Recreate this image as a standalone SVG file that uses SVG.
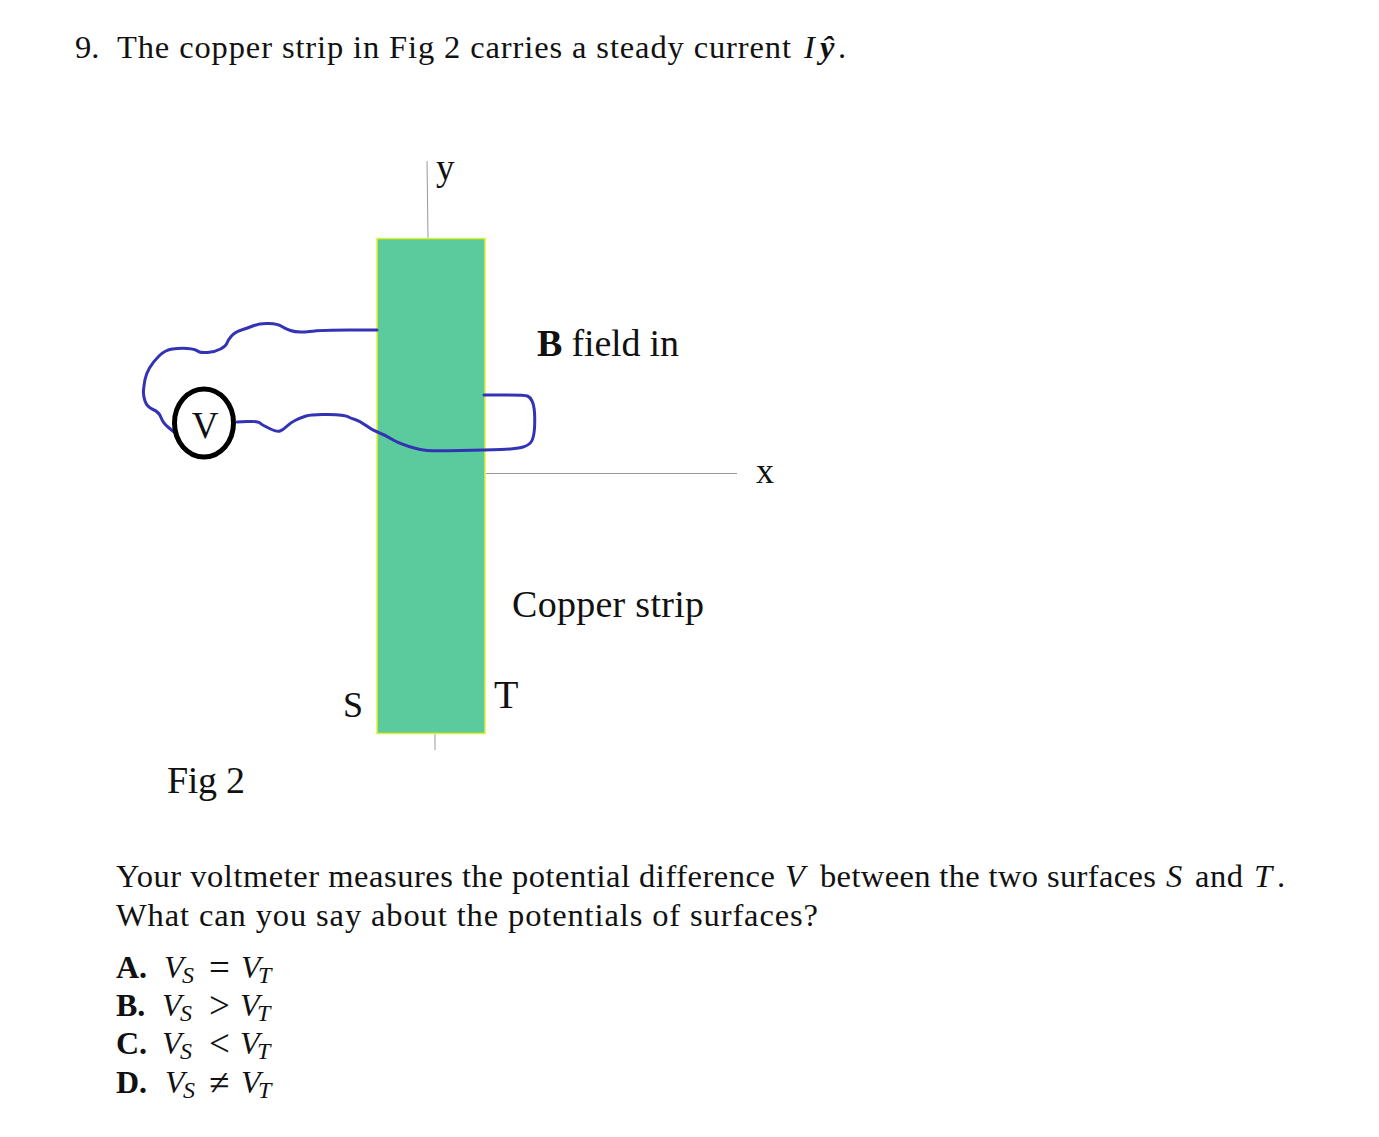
<svg xmlns="http://www.w3.org/2000/svg" width="1379" height="1137" viewBox="0 0 1379 1137">
<style>
text{font-family:"Liberation Serif","Times New Roman",serif;font-size:32.500px;fill:#111}
.l{font-size:38px}
.m{font-size:32px}
.op{font-size:37px}
.i{font-style:italic}
.b{font-weight:bold}
.sub{font-style:italic;font-size:24px}
.axis{stroke:#999;stroke-width:1;fill:none}
.wire{stroke:#3333b5;fill:none;stroke-width:3;stroke-linejoin:round;stroke-linecap:round}
</style>
<rect width="1379" height="1137" fill="#fff"/>
<g id="question-title">
<text x="75" y="58">9.</text>
<text x="117" y="58" textLength="674">The copper strip in Fig 2 carries a steady current</text>
<text class="i" x="804" y="58">I</text>
<text class="i b" x="820" y="58">ŷ</text>
<text x="838" y="58">.</text>
</g>
<g id="connectors">
<path class="axis" d="M427 161L428 238"/>
<path class="axis" d="M435 734V750"/>
<path class="axis" d="M486 473.500H737"/>
</g>
<g id="copper-strip"><rect x="377" y="238.500" width="108" height="495" fill="#5bcb9d" stroke="#e6ee2e" stroke-width="1.500"/></g>
<g id="wires">
<path class="wire" d="M377 330L349.500 330Q322 330 309.500 331.500T290.500 330.500T281 326T269 323.500T254 325.500T241.500 330T231.500 336T227 343T220.500 349T207.500 352.500T197.500 351T187.500 348.500T172.500 349T159 356T149.500 368T145 379.500T143.500 390T145 401T153 409.500T161 417.500T168.500 427.500T174 432"/>
<path class="wire" d="M237 422L247.500 421.500Q258 421 260 423T269.500 428.500T280 431T286.500 426.500T295 420.500T306 416T328.500 414.500T347.500 416.500T355 419.500T366 425.500T378.500 432.500T391.500 439T409 446.500T427.500 450.500T460.500 450.500T501 449.500T523 447T532 440.500T534.500 428T534.500 412.500T532 401T527.500 396Q525 395 504.500 395L484 395"/>
</g>
<g id="voltmeter">
<ellipse cx="204" cy="423" rx="29.500" ry="34" fill="#fff" stroke="#000" stroke-width="5"/>
<text x="205" y="438" text-anchor="middle" style="font-size:37px">V</text>
</g>
<text id="label-y" x="436" y="180" style="font-size:37px">y</text>
<text id="label-x" x="756" y="483" style="font-size:36px">x</text>
<text id="label-b" class="l" x="537" y="356" textLength="142"><tspan class="b">B</tspan> field in</text>
<text id="label-copper" class="l" x="512" y="617" textLength="192">Copper strip</text>
<text id="label-s" x="343" y="717" style="font-size:36px">S</text>
<text id="label-t" x="494" y="708" style="font-size:40px">T</text>
<text id="label-fig" class="l" x="167" y="793" textLength="78">Fig 2</text>
<g id="question-body">
<text x="116" y="887" textLength="659">Your voltmeter measures the potential difference</text>
<text class="i" x="785" y="887">V</text>
<text x="820" y="887" textLength="336">between the two surfaces</text>
<text class="i" x="1166" y="887">S</text>
<text x="1195" y="887" textLength="48">and</text>
<text class="i" x="1254" y="887">T</text>
<text x="1277" y="887">.</text>
<text x="116" y="926" textLength="702">What can you say about the potentials of surfaces?</text>
</g>
<g id="options">
<text class="m b" x="116" y="978">A.</text>
<text class="m i" x="164" y="978">V</text><text class="sub" x="182" y="983">S</text><text class="op" x="209" y="980">=</text><text class="m i" x="241" y="978">V</text><text class="sub" x="258" y="983">T</text>
<text class="m b" x="116" y="1016">B.</text>
<text class="m i" x="162" y="1016">V</text><text class="sub" x="180" y="1021">S</text><text class="op" x="209" y="1018">&gt;</text><text class="m i" x="240" y="1016">V</text><text class="sub" x="257" y="1021">T</text>
<text class="m b" x="116" y="1054">C.</text>
<text class="m i" x="162" y="1054">V</text><text class="sub" x="180" y="1059">S</text><text class="op" x="209" y="1056">&lt;</text><text class="m i" x="240" y="1054">V</text><text class="sub" x="257" y="1059">T</text>
<text class="m b" x="116" y="1093">D.</text>
<text class="m i" x="165" y="1093">V</text><text class="sub" x="183" y="1098">S</text><text class="op" x="209" y="1095">≠</text><text class="m i" x="241" y="1093">V</text><text class="sub" x="258" y="1098">T</text>
</g>
</svg>
